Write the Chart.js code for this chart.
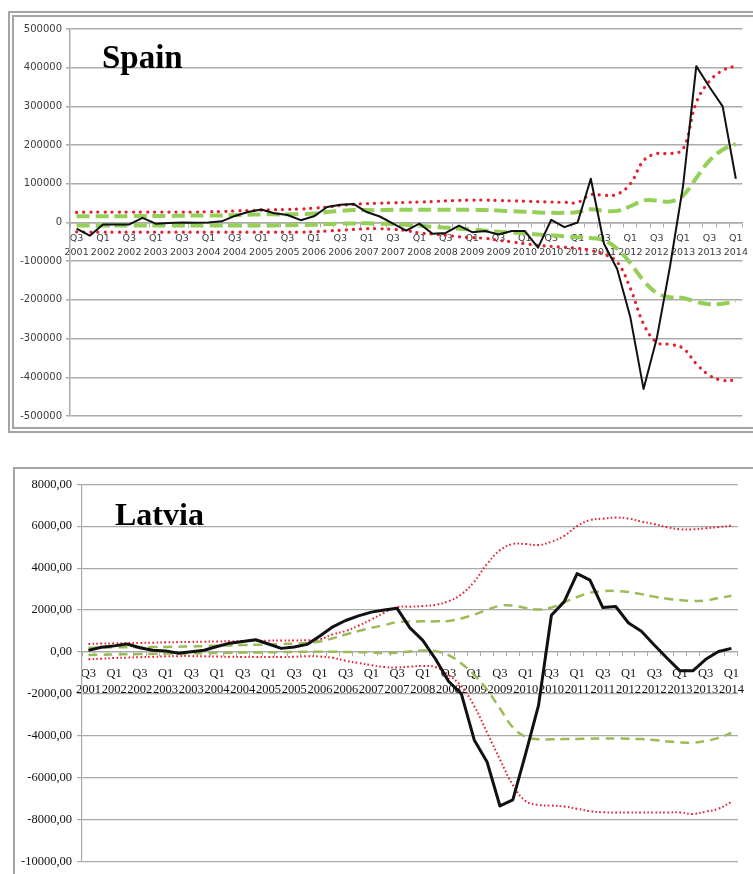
<!DOCTYPE html>
<html>
<head>
<meta charset="utf-8">
<script src="https://cdn.jsdelivr.net/npm/chart.js@4.4.1/dist/chart.umd.min.js"></script>
<style>
  html, body { margin: 0; padding: 0; background: #fff; width: 753px; height: 874px; overflow: hidden; }
  #frameSpain { position: absolute; left: 8px; top: 11px; width: 800px; height: 422px; box-sizing: border-box; border: 6px double #a4a4a4; }
  #frameLatvia { position: absolute; left: 13px; top: 467px; width: 800px; height: 460px; box-sizing: border-box; border: 2px solid #a4a4a4; }
  canvas { position: absolute; }
  #spain { left: 14px; top: 17px; }
  #latvia { left: 15px; top: 469px; }
</style>
</head>
<body>
<div id="frameSpain"></div>
<div id="frameLatvia"></div>
<canvas id="spain" width="739" height="410"></canvas>
<canvas id="latvia" width="738" height="405"></canvas>
<script>
// Quarterly categories, Q3 2001 – Q1 2014 (every second one is labelled)
const quarters = [
  "Q3 2001","Q4 2001",
  "Q1 2002","Q2 2002","Q3 2002","Q4 2002",
  "Q1 2003","Q2 2003","Q3 2003","Q4 2003",
  "Q1 2004","Q2 2004","Q3 2004","Q4 2004",
  "Q1 2005","Q2 2005","Q3 2005","Q4 2005",
  "Q1 2006","Q2 2006","Q3 2006","Q4 2006",
  "Q1 2007","Q2 2007","Q3 2007","Q4 2007",
  "Q1 2008","Q2 2008","Q3 2008","Q4 2008",
  "Q1 2009","Q2 2009","Q3 2009","Q4 2009",
  "Q1 2010","Q2 2010","Q3 2010","Q4 2010",
  "Q1 2011","Q2 2011","Q3 2011","Q4 2011",
  "Q1 2012","Q2 2012","Q3 2012","Q4 2012",
  "Q1 2013","Q2 2013","Q3 2013","Q4 2013",
  "Q1 2014"
];

// Spain
const spainActual = [-16000, -34000, -5000, -5000, -5000, 12000, -3000, -1500, 0, -500, 0, 3000,
  17000, 27000, 33500, 24000, 19500, 6000, 16000, 40000, 46000, 48000, 27000, 15500,
  -3000, -21000, -3000, -29000, -27000, -8000, -25000, -22000, -31000, -22000, -22000, -65000,
  7000, -12000, 0, 113000, -55000, -120000, -245000, -430000, -300000, -115000, 95000, 404000, 350000, 300000, 113000];
const spainUpper2 = [26000, 27000, 27000, 27000, 27000, 27000, 27000, 27000, 27000, 27000, 28000, 28000,
  30000, 31000, 32000, 33000, 34000, 35000, 37000, 40000, 44000, 47000, 49000, 50000,
  51000, 52000, 53000, 54000, 56000, 57000, 58000, 58000, 57000, 56000, 55000, 54000,
  53000, 52000, 52000, 72000, 70000, 73000, 100000, 160000, 178000, 178000, 190000, 310000, 365000, 393000, 405000];
const spainLower2 = [-24000, -25000, -25000, -25000, -25000, -25000, -25000, -25000, -25000, -25000, -25000, -25000,
  -25000, -25000, -25000, -25000, -25000, -25000, -24000, -22000, -20000, -18000, -16000, -16000,
  -18000, -21000, -27000, -30000, -33000, -37000, -39000, -41000, -46000, -50000, -55000, -59000,
  -62000, -64000, -67000, -72000, -82000, -102000, -170000, -262000, -310000, -315000, -325000, -365000, -395000, -408000, -407000];
const spainUpper1 = [16000, 16000, 16000, 16000, 16500, 17000, 17000, 17000, 17500, 18000, 18000, 18000,
  19000, 20000, 21000, 21000, 21000, 22000, 23000, 27000, 30000, 32000, 32000, 32000,
  33000, 33000, 33000, 33000, 33000, 33000, 33000, 32000, 31000, 29000, 28000, 26000,
  25000, 25000, 27000, 34000, 30000, 30000, 42000, 57000, 57000, 54000, 70000, 115000, 160000, 188000, 203000];
const spainLower1 = [-8000, -8000, -8000, -8000, -8000, -8000, -8000, -8000, -8000, -8000, -8000, -8000,
  -8000, -8000, -8000, -7500, -7000, -6500, -6000, -4000, -3000, -2500, -2000, -3000,
  -4000, -6000, -8000, -11000, -13000, -16000, -18000, -21000, -24000, -26000, -28000, -31000,
  -33000, -36000, -38000, -40000, -46000, -68000, -105000, -150000, -182000, -193000, -195000, -205000, -211000, -210000, -203000];

// Latvia
const latviaActual = [75, 220, 290, 380, 200, 80, 50, -60, 10, 80,
  260, 420, 500, 580, 380, 170, 240, 360, 760, 1200,
  1500, 1720, 1900, 2000, 2080, 1150, 550, -350, -1400, -2000,
  -4200, -5250, -7350, -7060, -4850, -2550, 1750, 2400, 3740, 3430,
  2120, 2170, 1380, 990, 330, -300, -900, -900, -350, 20, 170];
const latviaUpper2 = [380, 400, 410, 420, 430, 440, 460, 470, 480, 490,
  500, 510, 520, 530, 540, 550, 550, 560, 600, 840,
  1000, 1250, 1550, 1870, 2140, 2160, 2190, 2250, 2420, 2750,
  3350, 4200, 4850, 5150, 5150, 5100, 5260, 5540, 6000, 6290,
  6360, 6410, 6370, 6220, 6100, 5950, 5850, 5850, 5900, 5960, 6020];
const latviaLower2 = [-350, -320, -290, -270, -250, -230, -210, -200, -200, -210,
  -220, -230, -240, -240, -240, -240, -230, -200, -220, -280,
  -420, -530, -630, -720, -740, -700, -670, -720, -1100, -1640,
  -2580, -3850, -5130, -6350, -7120, -7300, -7330, -7380, -7480, -7600,
  -7650, -7660, -7660, -7660, -7660, -7660, -7660, -7730, -7620, -7480, -7150];
const latviaUpper1 = [200, 210, 220, 220, 230, 230, 240, 250, 260, 280,
  300, 310, 330, 340, 360, 380, 400, 430, 500, 650,
  830, 1000, 1150, 1280, 1420, 1450, 1460, 1460, 1480, 1600,
  1780, 2010, 2200, 2220, 2100, 2020, 2120, 2380, 2620, 2830,
  2900, 2910, 2860, 2760, 2640, 2540, 2480, 2430, 2460, 2570, 2680];
const latviaLower1 = [-140, -130, -120, -110, -100, -90, -80, -80, -70, -60,
  -50, -40, -30, -30, -20, -10, 0, 10, 10, 10,
  0, -10, -30, -60, -40, 20, 70, 40, -150, -550,
  -1100, -1800, -2700, -3600, -4050, -4170, -4170, -4160, -4150, -4140,
  -4130, -4130, -4140, -4160, -4200, -4270, -4320, -4330, -4250, -4100, -3870];

// Bold country name written inside the plot area
const panelTitle = {
  id: 'panelTitle',
  afterDraw(chart, args, opts) {
    const ctx = chart.ctx;
    ctx.save();
    ctx.font = opts.font;
    ctx.fillStyle = '#000';
    ctx.textAlign = 'left';
    ctx.textBaseline = 'alphabetic';
    ctx.fillText(opts.text, opts.x, opts.y);
    ctx.restore();
  }
};

function lineSet(data, style) {
  return Object.assign({ data, pointRadius: 0, pointHoverRadius: 0, fill: false }, style);
}

function makeChart(id, cfg) {
  const red = '#e3202f';
  return new Chart(document.getElementById(id), {
    type: 'line',
    data: {
      labels: quarters,
      datasets: [
        lineSet(cfg.actual, { borderColor: '#111', borderWidth: cfg.blackWidth, tension: 0, borderJoinStyle: 'round' }),
        lineSet(cfg.upper1, { borderColor: cfg.green, borderWidth: cfg.greenWidth, borderDash: cfg.greenDash, tension: 0.4 }),
        lineSet(cfg.lower1, { borderColor: cfg.green, borderWidth: cfg.greenWidth, borderDash: cfg.greenDash, tension: 0.4 }),
        lineSet(cfg.upper2, { borderColor: red, borderWidth: cfg.redWidth, borderDash: cfg.redDash, borderCapStyle: cfg.redCap, tension: 0.4 }),
        lineSet(cfg.lower2, { borderColor: red, borderWidth: cfg.redWidth, borderDash: cfg.redDash, borderCapStyle: cfg.redCap, tension: 0.4 })
      ]
    },
    options: {
      responsive: false,
      animation: false,
      devicePixelRatio: 1,
      events: [],
      layout: { padding: cfg.padding },
      plugins: {
        legend: { display: false },
        tooltip: { enabled: false },
        panelTitle: cfg.title
      },
      scales: {
        x: {
          type: 'category',
          position: { y: 0 },
          offset: true,
          grid: { display: true, drawOnChartArea: false, offset: true, drawTicks: true, tickLength: 4, color: cfg.gridColor, lineWidth: 1 },
          border: { display: true, color: cfg.gridColor, width: cfg.gridWidth },
          ticks: {
            autoSkip: false, maxRotation: 0, minRotation: 0,
            padding: cfg.xPad, color: cfg.labelColor, font: cfg.xFont,
            callback: (v, i) => (i % 2 === 0 ? quarters[i].split(' ') : '')
          }
        },
        y: {
          min: cfg.yMin, max: cfg.yMax,
          afterFit: s => { s.width = cfg.yWidth; },
          grid: { color: cfg.gridColor, lineWidth: cfg.gridWidth, drawTicks: true, tickLength: cfg.yTick },
          border: { display: true, color: cfg.gridColor, width: cfg.gridWidth },
          ticks: { stepSize: cfg.yStep, padding: cfg.yPad, color: cfg.labelColor, font: cfg.yFont, callback: cfg.yFormat }
        }
      }
    },
    plugins: [panelTitle]
  });
}

makeChart('spain', {
  actual: spainActual, upper1: spainUpper1, lower1: spainLower1, upper2: spainUpper2, lower2: spainLower2,
  blackWidth: 2, green: '#95cf58', greenWidth: 4, greenDash: [13, 6],
  redWidth: 3.2, redDash: [0.1, 7], redCap: 'round',
  padding: { left: 0, right: 8, top: 12, bottom: 11 },
  yMin: -500000, yMax: 500000, yStep: 100000, yWidth: 56, yTick: 4, yPad: 4,
  yFont: { family: 'DejaVu Sans', size: 10 },
  yFormat: v => String(v),
  xFont: { family: 'DejaVu Sans', size: 9.5, lineHeight: 1.5 }, xPad: 5,
  labelColor: '#3c3c3c', gridColor: '#ababab', gridWidth: 1.5,
  title: { text: 'Spain', x: 88, y: 50.7, font: 'bold 33px "Liberation Serif"' }
});

makeChart('latvia', {
  actual: latviaActual, upper1: latviaUpper1, lower1: latviaLower1, upper2: latviaUpper2, lower2: latviaLower2,
  blackWidth: 3, green: '#9bbb59', greenWidth: 2.5, greenDash: [9, 6],
  redWidth: 2, redDash: [1.6, 2.4], redCap: 'butt',
  padding: { left: 0, right: 7.3, top: 15.3, bottom: 8 },
  yMin: -10000, yMax: 8000, yStep: 2000, yWidth: 67, yTick: 5, yPad: 5,
  yFont: { family: 'Liberation Serif', size: 12.5 },
  yFormat: v => v.toFixed(2).replace('.', ','),
  xFont: { family: 'Liberation Serif', size: 12.5, lineHeight: 1.34 }, xPad: 9,
  labelColor: '#111', gridColor: '#a9a9a9', gridWidth: 1.2,
  title: { text: 'Latvia', x: 100, y: 56, font: 'bold 32px "Liberation Serif"' }
});
</script>
</body>
</html>
